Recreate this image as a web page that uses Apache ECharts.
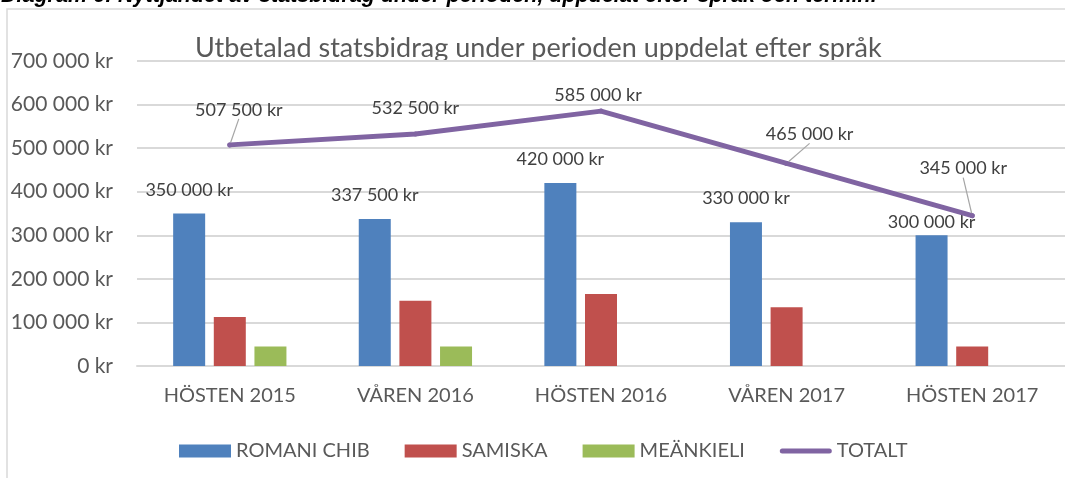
<!DOCTYPE html>
<html>
<head>
<meta charset="utf-8">
<script src="https://cdn.jsdelivr.net/npm/echarts@6/dist/echarts.min.js"></script>
<style>
html,body{margin:0;padding:0;background:#fff;}
#chart{width:1065px;height:478px;}
</style>
</head>
<body>
<div id="chart"></div>
<script>
// ---- data ----
const categories = ['HÖSTEN 2015', 'VÅREN 2016', 'HÖSTEN 2016', 'VÅREN 2017', 'HÖSTEN 2017'];
const romaniChib = [350000, 337500, 420000, 330000, 300000];
const samiska = [112500, 150000, 165000, 135000, 45000];
const meankieli = [45000, 45000, 0, 0, 0];
const totalt = [507500, 532500, 585000, 465000, 345000];
const seriesNames = ['ROMANI CHIB', 'SAMISKA', 'MEÄNKIELI', 'TOTALT'];
const chartTitle = 'Utbetalad statsbidrag under perioden uppdelat efter språk';
const captionText = 'Diagram 6: Nyttjandet av statsbidrag under perioden, uppdelat efter språk och termin.';

// ---- label placement tweaks (offsets, not data) ----
const barLabelDy = [1, 0, 0, 0, 11];
const lineLabelDx = [9, 0, -3, 23, -9];
const lineLabelDy = [-18.5, -9.5, 0.5, -12.5, -30.5];
const lineLeader = [true, false, false, true, true];

const fmt = v => String(v).replace(/\B(?=(\d{3})+(?!\d))/g, ' ') + ' kr';
const FONT = 'Lato';
const TXT = '#595959';
const LBL = '#404040';

const chart = echarts.init(document.getElementById('chart'), null, {renderer: 'canvas'});
chart.setOption({
  animation: false,
  backgroundColor: '#ffffff',
  textStyle: {fontFamily: FONT},
  graphic: [
    {type: 'rect', shape: {x: 7, y: 9, width: 1080, height: 490},
     style: {fill: 'none', stroke: '#d9d9d9', lineWidth: 1.5}, silent: true},
    {type: 'text', x: 1, y: 7,
     style: {text: captionText, font: 'italic bold 21.5px "Liberation Sans"', fill: '#000', textVerticalAlign: 'bottom'}},
    {type: 'text', x: 195, top: 35,
     style: {text: chartTitle, font: '27px Lato', fill: TXT}}
  ],
  grid: {left: 137, right: 0, top: 61, bottom: 112, containLabel: false},
  legend: {
    left: 174, top: 436, itemWidth: 52, itemHeight: 13, itemGap: 35,
    textStyle: {fontSize: 20, color: TXT, fontFamily: FONT},
    data: [
      {name: seriesNames[0], icon: 'rect'},
      {name: seriesNames[1], icon: 'rect'},
      {name: seriesNames[2], icon: 'rect'},
      {name: seriesNames[3], icon: 'path://M2.5,0 L49.5,0 A2.5,2.5 0 0 1 49.5,5 L2.5,5 A2.5,2.5 0 0 1 2.5,0 Z'}
    ]
  },
  xAxis: {
    type: 'category', data: categories,
    axisLine: {show: true, lineStyle: {color: '#d9d9d9', width: 2}},
    axisTick: {show: false},
    axisLabel: {fontSize: 20, color: TXT, margin: 20, fontFamily: FONT}
  },
  yAxis: {
    type: 'value', min: 0, max: 700000, interval: 100000,
    axisLine: {show: false}, axisTick: {show: false},
    splitLine: {lineStyle: {color: '#d9d9d9', width: 2}},
    axisLabel: {fontSize: 21, color: TXT, margin: 24, formatter: fmt, fontFamily: FONT}
  },
  series: [
    {name: seriesNames[0], type: 'bar', data: romaniChib, barWidth: 32, barGap: '27%',
     itemStyle: {color: '#4f81bd'},
     label: {show: true, position: 'top', distance: 15, fontSize: 18, color: LBL, formatter: p => fmt(p.value)},
     labelLayout: p => ({dy: barLabelDy[p.dataIndex]})},
    {name: seriesNames[1], type: 'bar', data: samiska, barWidth: 32, barGap: '27%',
     itemStyle: {color: '#c0504d'}},
    {name: seriesNames[2], type: 'bar', data: meankieli, barWidth: 32, barGap: '27%',
     itemStyle: {color: '#9bbb59'}},
    {name: seriesNames[3], type: 'line', z: 5,
     data: totalt.map((v, i) => ({value: v, labelLine: {show: lineLeader[i]}})),
     symbol: 'circle', symbolSize: 5, showSymbol: true,
     itemStyle: {color: '#8064a2'},
     lineStyle: {color: '#8064a2', width: 5, cap: 'round', join: 'round'},
     label: {show: true, position: 'top', distance: 5, fontSize: 18, color: LBL, formatter: p => fmt(p.value)},
     labelLine: {show: true, lineStyle: {color: '#a6a6a6', width: 1.2}},
     labelLayout: p => ({dx: lineLabelDx[p.dataIndex], dy: lineLabelDy[p.dataIndex]})}
  ]
});
</script>
</body>
</html>
